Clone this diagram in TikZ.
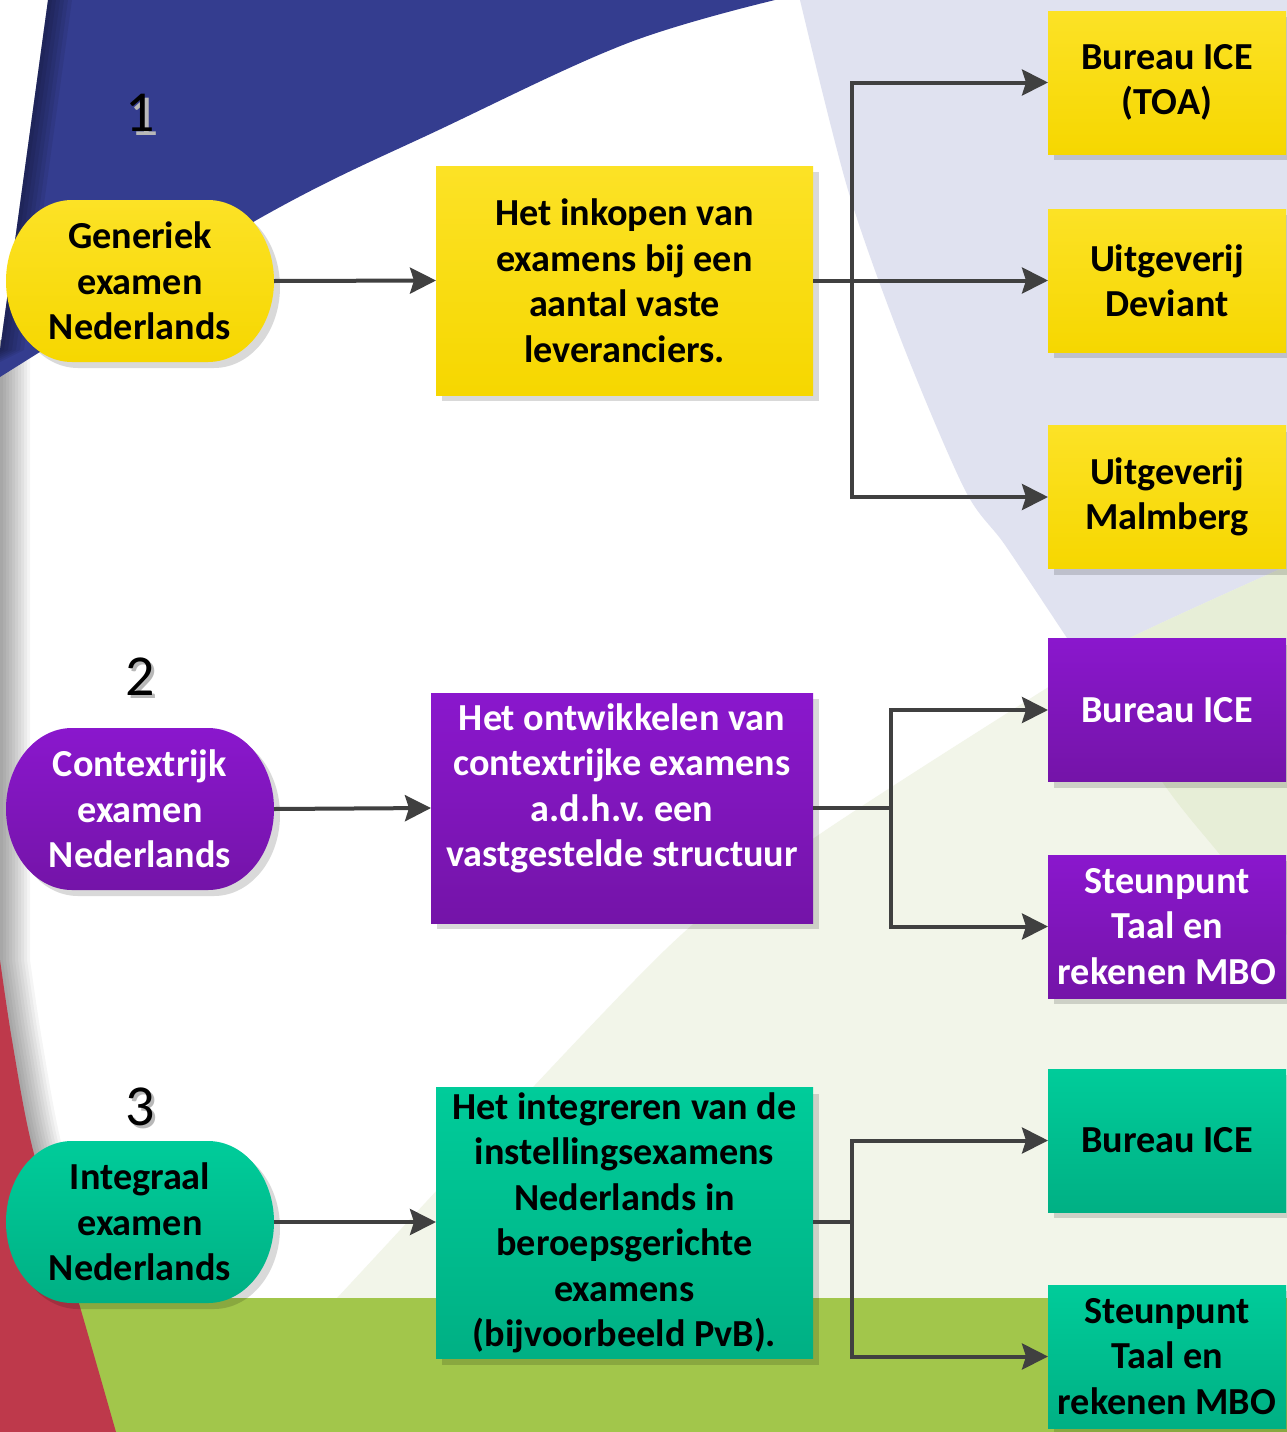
\documentclass[tikz,border=0pt]{standalone}
\usepackage{fontspec}
\setmainfont{Carlito}
\usetikzlibrary{arrows.meta,calc}
\pgfdeclarelayer{bg}
\pgfdeclarelayer{shp}
\pgfsetlayers{bg,shp,main}
\frenchspacing

\definecolor{blueR}{HTML}{343D8F}
\definecolor{lav}{HTML}{E0E2F0}
\definecolor{creamL}{HTML}{F2F5E9}
\definecolor{creamD}{HTML}{E7EED7}
\definecolor{grnBand}{HTML}{A2C64B}
\definecolor{redR}{HTML}{BE394B}
\definecolor{yelT}{HTML}{FCE226}
\definecolor{yelB}{HTML}{F6D700}
\definecolor{purT}{HTML}{8A17CD}
\definecolor{purB}{HTML}{7414A8}
\definecolor{grnT}{HTML}{00CC9A}
\definecolor{grnB}{HTML}{00B084}
\definecolor{arr}{HTML}{404040}

\newcommand\stadfill[3]{%
  \begin{pgfonlayer}{shp}
    \fill[black,opacity=0.15] ([xshift=72pt,yshift=-6pt]#1.north west) -- ([xshift=-60pt,yshift=-6pt]#1.north east)
      arc[start angle=90,end angle=-90,x radius=66pt,y radius=81pt]
      -- ([xshift=72pt,yshift=-6pt]#1.south west)
      arc[start angle=270,end angle=90,x radius=66pt,y radius=81pt] -- cycle;
    \path[top color=#2,bottom color=#3] ([xshift=66pt]#1.north west) -- ([xshift=-66pt]#1.north east)
      arc[start angle=90,end angle=-90,x radius=66pt,y radius=81pt]
      -- ([xshift=66pt]#1.south west)
      arc[start angle=270,end angle=90,x radius=66pt,y radius=81pt] -- cycle;
  \end{pgfonlayer}}
\newcommand\boxshadow[1]{%
  \begin{pgfonlayer}{shp}
    \fill[black,opacity=0.15] ([xshift=6pt,yshift=-6pt]#1.north west) rectangle ([xshift=6pt,yshift=-6pt]#1.south east);
  \end{pgfonlayer}}
% digit with a soft grey text shadow, as one text
\newcommand\shadednum[2]{\makebox[0pt][l]{\hspace{#2}\raisebox{-#2}{\textcolor{black!28}{#1}}}#1}

\begin{document}
\begin{tikzpicture}[x=1pt,y=-1pt,
  txt/.style={font=\bfseries\fontsize{38.2}{45.5}\selectfont, align=center, inner sep=0pt, outer sep=0pt},
  stad/.style={txt, minimum width=268pt, minimum height=162pt},
  rbox/.style={txt, minimum width=238pt, minimum height=143pt},
  ycol/.style={top color=yelT, bottom color=yelB, text=black},
  pcol/.style={top color=purT, bottom color=purB, text=white},
  gcol/.style={top color=grnT, bottom color=grnB, text=black},
  numtxt/.style={font=\fontsize{58}{60}\selectfont, inner sep=0pt},
  line/.style={draw=arr, line width=4pt},
  conn/.style={line, -{Stealth[length=26pt,width=26pt,inset=4pt]}}
]
\useasboundingbox (0,0) rectangle (1287,1432);

% ---------- background ----------
\begin{pgfonlayer}{bg}
  \fill[white] (0,0) rectangle (1287,1432);
  % lavender swoosh
  \fill[lav] plot[smooth] coordinates {(800,0) (848,190) (903,345) (965,490) (1005,545) (1067,638) (1163,783) (1217,851) (1287,935)} -- (1287,0) -- cycle;
  % light cream field
  \fill[creamL] plot[smooth] coordinates {(300,1340) (337,1298) (665,950) (817,836) (1050,686) (1130,638) (1287,566)} -- (1287,1432) -- (300,1432) -- cycle;
  % darker green where the two overlap
  \begin{scope}
    \clip plot[smooth] coordinates {(800,0) (848,190) (903,345) (965,490) (1005,545) (1067,638) (1163,783) (1217,851) (1287,935)} -- (1287,0) -- cycle;
    \fill[creamD] plot[smooth] coordinates {(300,1340) (337,1298) (665,950) (817,836) (1050,686) (1130,638) (1287,566)} -- (1287,1432) -- (300,1432) -- cycle;
  \end{scope}
  % soft grey shadow along left edge / red swoosh
  \foreach \i in {1,...,10}{
    \fill[black,opacity=0.04,xshift=\i*3pt] (-60,340) -- (0,340) -- (0,960) -- plot[smooth] coordinates {(0,960) (12,1040) (33,1150) (78,1300) (118,1432)} -- (-60,1432) -- cycle;
  }
  % green band
  \fill[grnBand] (0,1298) rectangle (1287,1432);
  % red swoosh
  \fill[redR] (0,960) -- plot[smooth] coordinates {(0,960) (12,1040) (33,1150) (78,1300) (116,1432)} -- (0,1432) -- cycle;
  % blue swoosh
  \fill[blueR] (48,0) -- plot[smooth, tension=0.6] coordinates {(775,0) (628,43) (445,127) (262,217) (0,377)} -- (0,350) -- cycle;
  \begin{scope}
    \clip (48,0) -- plot[smooth, tension=0.6] coordinates {(775,0) (628,43) (445,127) (262,217) (0,377)} -- (0,350) -- cycle;
    \foreach \i in {1,...,6}{
      \fill[black,opacity=0.07,xshift=\i*4pt] (-100,0) -- (48,0) -- (0,350) -- (-100,400) -- cycle;
    }
  \end{scope}
\end{pgfonlayer}

% ---------- numbers ----------
\node[numtxt] (n1) at (140,115) {\shadednum{1}{4pt}};
\node[numtxt] (n2) at (140,678) {\shadednum{2}{3pt}};
\node[numtxt] (n3) at (140,1108) {\shadednum{3}{3pt}};

% ---------- row 1 (yellow) ----------
\node[stad, text=black] (g1) at (140,281) {Generiek\\examen\\Nederlands};
\node[txt, ycol, minimum width=377pt, minimum height=229pt] (m1) at (624.5,280.5)
  {Het inkopen van\\examens bij een\\aantal vaste\\leveranciers.};
\node[rbox, ycol] (r1) at (1167,82.5) {Bureau ICE\\(TOA)};
\node[rbox, ycol] (r2) at (1167,280.5) {Uitgeverij\\Deviant};
\node[rbox, ycol] (r3) at (1167,497) {Uitgeverij\\Malmberg};
\stadfill{g1}{yelT}{yelB}
\boxshadow{m1}\boxshadow{r1}\boxshadow{r2}\boxshadow{r3}
\coordinate (j1) at (852,280.5);
\draw[conn] (g1.east) -- (m1.west);
\draw[conn] (m1.east) -- (r2.west);
\draw[conn] (j1) |- (r1.west);
\draw[conn] (j1) |- (r3.west);

% ---------- row 2 (purple) ----------
\node[stad, text=white] (g2) at (140,809) {Contextrijk\\examen\\Nederlands};
\node[txt, pcol, minimum width=382pt, minimum height=230pt] (m2) at (622,808)
  {Het ontwikkelen van\\contextrijke examens\\a.d.h.v. een\\vastgestelde structuur\\\mbox{}};
\node[rbox, pcol] (r4) at (1167,710) {Bureau ICE};
\node[rbox, pcol] (r5) at (1167,926.5) {Steunpunt\\Taal en\\rekenen MBO};
\stadfill{g2}{purT}{purB}
\boxshadow{m2}\boxshadow{r4}\boxshadow{r5}
\coordinate (j2) at (891,808);
\draw[conn] (g2.east) -- (m2.west);
\draw[line] (m2.east) -- (j2);
\draw[conn] (j2) |- (r4.west);
\draw[conn] (j2) |- (r5.west);

% ---------- row 3 (green) ----------
\node[stad, text=black] (g3) at (140,1222) {Integraal\\examen\\Nederlands};
\node[txt, gcol, minimum width=377pt, minimum height=271pt] (m3) at (624.5,1223)
  {Het integreren van de\\instellingsexamens\\Nederlands in\\beroepsgerichte\\examens\\(bijvoorbeeld PvB).};
\node[rbox, gcol] (r6) at (1167,1140.5) {Bureau ICE};
\node[rbox, gcol] (r7) at (1167,1356.5) {Steunpunt\\Taal en\\rekenen MBO};
\stadfill{g3}{grnT}{grnB}
\boxshadow{m3}\boxshadow{r6}\boxshadow{r7}
\coordinate (j3) at (852,1222);
\draw[conn] (g3.east) -- (g3.east -| m3.west);
\draw[line] (m3.east |- j3) -- (j3);
\draw[conn] (j3) |- (r6.west);
\draw[conn] (j3) |- (r7.west);
\end{tikzpicture}
\end{document}
